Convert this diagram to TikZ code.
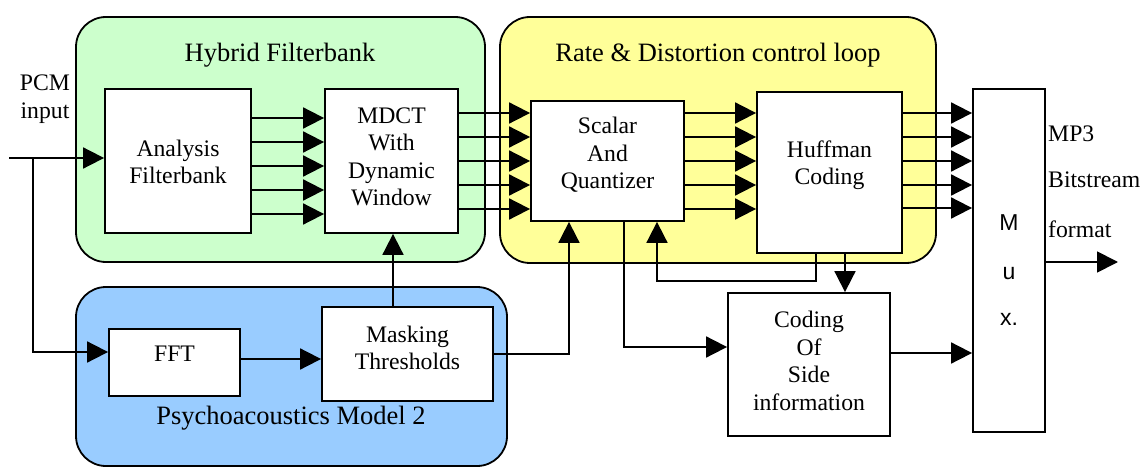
\documentclass[tikz,border=0pt]{standalone}
\usepackage{fontspec}
\setmainfont{Liberation Serif}
\newfontfamily\arialfont{Liberation Sans}
\usetikzlibrary{arrows.meta}
\definecolor{grpgreen}{HTML}{CCFFCC}
\definecolor{grpyellow}{HTML}{FFFF99}
\definecolor{grpblue}{HTML}{99CCFF}
\tikzset{
  group/.style={draw=black, line width=1.8pt, rounded corners=30pt, inner sep=0pt},
  blk/.style={draw=black, fill=white, line width=1.8pt, inner sep=0pt},
  txt/.style={align=center, inner sep=0pt, font=\fontsize{23.7}{27.5}\selectfont},
  title/.style={inner sep=0pt, font=\fontsize{26.5}{30}\selectfont},
  muxtxt/.style={inner sep=0pt, anchor=base, font=\arialfont\fontsize{23}{27}\selectfont},
  wire/.style={line width=1.8pt},
  arr/.style={wire, -{Triangle[length=21pt,width=21pt]}}
}
\begin{document}
\begin{tikzpicture}[x=1pt,y=-1pt]
\useasboundingbox (0,0) rectangle (1144,468);

% group panels
\node[group, fill=grpgreen, minimum width=409pt, minimum height=245pt] (ghyb) at (280.5,139.5) {};
\node[group, fill=grpyellow, minimum width=436pt, minimum height=246pt] (grate) at (718,140) {};
\node[group, fill=grpblue, minimum width=431pt, minimum height=179pt] (gpsy) at (291.5,376.5) {};

\node[title] (thyb) at (280,55) {Hybrid Filterbank};
\node[title] (trate) at (718,55) {Rate \& Distortion control loop};
\node[title] (tpsy) at (291,418) {Psychoacoustics Model 2};

% processing blocks
\node[blk, minimum width=146pt, minimum height=144pt] (an) at (178,161) {};
\node[txt] (ant) at (178,162) {Analysis\\Filterbank};
\node[blk, minimum width=133pt, minimum height=144pt] (md) at (391.5,161) {};
\node[txt] (mdt) at (391.5,157) {MDCT\\With\\Dynamic\\Window};
\node[blk, minimum width=153pt, minimum height=120pt] (sq) at (607.5,161) {};
\node[txt] (sqt) at (607.5,155) {Scalar\\And\\Quantizer};
\node[blk, minimum width=145pt, minimum height=161pt] (hf) at (829.5,172.5) {};
\node[txt] (hft) at (829.5,165) {Huffman\\Coding};
\node[blk, minimum width=72pt, minimum height=343pt] (mux) at (1009,260.5) {};
\node[muxtxt] (muxm) at (1009,230) {M};
\node[muxtxt] (muxu) at (1009,279) {u};
\node[muxtxt] (muxx) at (1009,325) {x.};
\node[blk, minimum width=162pt, minimum height=143pt] (cs) at (809,364.5) {};
\node[txt] (cst) at (809,361) {Coding\\Of\\Side\\information};
\node[blk, minimum width=171pt, minimum height=94pt] (mt) at (407.5,354) {};
\node[txt] (mtt) at (407.5,348) {Masking\\Thresholds};
\node[blk, minimum width=131pt, minimum height=67pt] (fft) at (174.5,362.5) {};
\node[txt] (fftt) at (174.5,354) {FFT};

% input / output labels
\node[txt] (pcm) at (45,99) {PCM\\input};
\node[txt, anchor=base west] (mp3a) at (1048,142) {MP3};
\node[txt, anchor=base west] (mp3b) at (1048,188) {Bitstream};
\node[txt, anchor=base west] (mp3c) at (1048,237) {format};

\coordinate (pin) at (9,158);
\coordinate (split) at (33,158);
\coordinate (out) at (1118,262);

% input path
\draw[arr] (pin) -- (pin -| an.west);
\draw[arr] (split) |- (fft.west |- 0,352);

% parallel subband paths
\foreach \yy in {118,142,166,190,214}
  \draw[arr] (an.east |- 0,\yy) -- (md.west |- 0,\yy);
\foreach \yy in {113,137,161,185,209}{
  \draw[arr] (md.east |- 0,\yy) -- (sq.west |- 0,\yy);
  \draw[arr] (sq.east |- 0,\yy) -- (hf.west |- 0,\yy);
}
\foreach \yy in {113,137,161,185,208}
  \draw[arr] (hf.east |- 0,\yy) -- (mux.west |- 0,\yy);

% psychoacoustic model
\draw[arr] (fft.east |- 0,359) -- (mt.west |- 0,359);
\draw[arr] (393,0 |- mt.north) -- (393,0 |- md.south);
\draw[arr] (mt.east) -| (569,0 |- sq.south);

% control loop and side information
\draw[arr] (624,0 |- sq.south) |- (cs.west |- 0,347);
\draw[arr] (816,0 |- hf.south) -- ++(0,27) -| (657,0 |- sq.south);
\draw[arr] (845,0 |- hf.south) -- (845,0 |- cs.north);
\draw[arr] (cs.east |- 0,353) -- (mux.west |- 0,353);
\draw[arr] (mux.east |- out) -- (out);
\end{tikzpicture}
\end{document}
